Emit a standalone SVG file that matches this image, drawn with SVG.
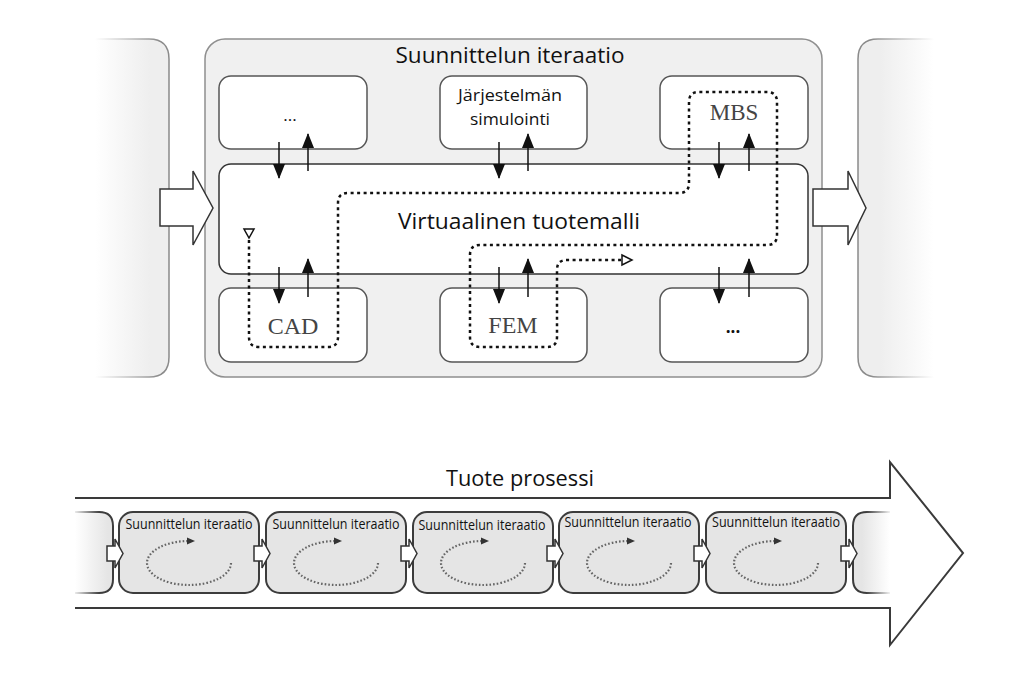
<svg xmlns="http://www.w3.org/2000/svg" width="1024" height="677" viewBox="0 0 1024 677">
<style>
.sans{font-family:"Open Sans","Noto Sans","Liberation Sans",sans-serif;fill:#111}
.serif{font-family:"Liberation Serif","DejaVu Serif",serif;fill:#444}
.inner{fill:#fff;stroke:#555;stroke-width:1.5}
.conn{stroke:#111;stroke-width:1.5;fill:none}
.bigarrow{fill:#fff;stroke:#333;stroke-width:1.5}
.iter{fill:#e5e5e5;stroke:#3c3c3c;stroke-width:2}
.loop{fill:none;stroke:#666;stroke-width:2.2;stroke-dasharray:1.6 2}
.small{font-size:14px}
</style>
<defs>
<linearGradient id="gL" x1="95" y1="0" x2="150" y2="0" gradientUnits="userSpaceOnUse">
<stop offset="0" stop-color="#fff"/><stop offset="1" stop-color="#eeeeee"/></linearGradient>
<linearGradient id="gLs" x1="95" y1="0" x2="160" y2="0" gradientUnits="userSpaceOnUse">
<stop offset="0" stop-color="#fff"/><stop offset="1" stop-color="#8a8a8a"/></linearGradient>
<linearGradient id="gR" x1="880" y1="0" x2="934" y2="0" gradientUnits="userSpaceOnUse">
<stop offset="0" stop-color="#eeeeee"/><stop offset="1" stop-color="#fff"/></linearGradient>
<linearGradient id="gRs" x1="870" y1="0" x2="934" y2="0" gradientUnits="userSpaceOnUse">
<stop offset="0" stop-color="#8a8a8a"/><stop offset="1" stop-color="#fff"/></linearGradient>
<linearGradient id="bL" x1="75" y1="0" x2="108" y2="0" gradientUnits="userSpaceOnUse">
<stop offset="0" stop-color="#fff"/><stop offset="1" stop-color="#e5e5e5"/></linearGradient>
<linearGradient id="bLs" x1="72" y1="0" x2="100" y2="0" gradientUnits="userSpaceOnUse">
<stop offset="0" stop-color="#fff"/><stop offset="1" stop-color="#3c3c3c"/></linearGradient>
<linearGradient id="bR" x1="862" y1="0" x2="890" y2="0" gradientUnits="userSpaceOnUse">
<stop offset="0" stop-color="#e5e5e5"/><stop offset="1" stop-color="#fff"/></linearGradient>
<linearGradient id="bRs" x1="866" y1="0" x2="892" y2="0" gradientUnits="userSpaceOnUse">
<stop offset="0" stop-color="#3c3c3c"/><stop offset="1" stop-color="#fff"/></linearGradient>
<marker id="ah" viewBox="0 0 15 12" refX="14" refY="6" markerWidth="15" markerHeight="12" markerUnits="userSpaceOnUse" orient="auto">
<path d="M0,0 L15,6 L0,12 Z" fill="#111"/></marker>
</defs>

<!-- Top section -->
<g id="prev-stage">
<path d="M95,39 H149 Q169,39 169,59 V357 Q169,377 149,377 H95 Z" fill="url(#gL)" stroke="none"/>
<path d="M95,39 H149 Q169,39 169,59 V357 Q169,377 149,377 H95" fill="none" stroke="url(#gLs)" stroke-width="1.5"/>
</g>
<g id="next-stage">
<path d="M934,39 H878 Q858,39 858,59 V357 Q858,377 878,377 H934 Z" fill="url(#gR)" stroke="none"/>
<path d="M934,39 H878 Q858,39 858,59 V357 Q858,377 878,377 H934" fill="none" stroke="url(#gRs)" stroke-width="1.5"/>
</g>
<g id="design-iteration">
<rect x="205" y="39" width="617" height="338" rx="20" fill="#f0f0f0" stroke="#8f8f8f" stroke-width="1.5"/>
<text class="sans" x="510" y="63" font-size="22" text-anchor="middle" textLength="229" lengthAdjust="spacingAndGlyphs">Suunnittelun iteraatio</text>
</g>
<g id="virtual-model">
<rect x="219" y="164" width="589" height="110" rx="12" fill="#fff" stroke="#333" stroke-width="1.5"/>
<text class="sans" x="519" y="229" font-size="22" text-anchor="middle" textLength="242" lengthAdjust="spacingAndGlyphs">Virtuaalinen tuotemalli</text>
</g>
<g id="node-dots-top">
<rect class="inner" x="219" y="76" width="148" height="73" rx="12"/>
<text class="sans" x="290" y="121" font-size="17" text-anchor="middle">...</text>
</g>
<g id="node-system-sim">
<rect class="inner" x="440" y="76" width="147" height="73" rx="12"/>
<text class="sans" x="510" y="101" font-size="16" text-anchor="middle" textLength="104" lengthAdjust="spacingAndGlyphs">Järjestelmän</text>
<text class="sans" x="510" y="125" font-size="16" text-anchor="middle" textLength="80" lengthAdjust="spacingAndGlyphs">simulointi</text>
</g>
<g id="node-mbs">
<rect class="inner" x="660" y="76" width="148" height="73" rx="12"/>
<text class="serif" x="734" y="120" font-size="23" text-anchor="middle">MBS</text>
</g>
<g id="node-cad">
<rect class="inner" x="219" y="288" width="148" height="74" rx="12"/>
<text class="serif" x="293" y="334" font-size="24" text-anchor="middle">CAD</text>
</g>
<g id="node-fem">
<rect class="inner" x="440" y="288" width="147" height="74" rx="12"/>
<text class="serif" x="513" y="333" font-size="24" text-anchor="middle">FEM</text>
</g>
<g id="node-dots-bottom">
<rect class="inner" x="660" y="288" width="148" height="74" rx="12"/>
<text class="sans" x="733" y="333" font-size="17" font-weight="bold" text-anchor="middle">...</text>
</g>

<g id="connectors">
<!-- top pairs -->
<line class="conn" x1="279" y1="142" x2="279" y2="178" marker-end="url(#ah)"/>
<line class="conn" x1="308" y1="171" x2="308" y2="134" marker-end="url(#ah)"/>
<line class="conn" x1="499" y1="142" x2="499" y2="178" marker-end="url(#ah)"/>
<line class="conn" x1="528" y1="171" x2="528" y2="134" marker-end="url(#ah)"/>
<line class="conn" x1="719" y1="142" x2="719" y2="178" marker-end="url(#ah)"/>
<line class="conn" x1="749" y1="171" x2="749" y2="134" marker-end="url(#ah)"/>
<!-- bottom pairs -->
<line class="conn" x1="279" y1="267" x2="279" y2="303" marker-end="url(#ah)"/>
<line class="conn" x1="308" y1="297" x2="308" y2="259" marker-end="url(#ah)"/>
<line class="conn" x1="499" y1="267" x2="499" y2="303" marker-end="url(#ah)"/>
<line class="conn" x1="528" y1="297" x2="528" y2="259" marker-end="url(#ah)"/>
<line class="conn" x1="719" y1="267" x2="719" y2="303" marker-end="url(#ah)"/>
<line class="conn" x1="749" y1="297" x2="749" y2="259" marker-end="url(#ah)"/>
<!-- dotted workflow path -->
<path d="M249,240 V337 Q249,347 259,347 H328 Q338,347 338,337 V203 Q338,193 348,193 H679 Q689,193 689,183 V102 Q689,92 699,92 H767 Q777,92 777,102 V235 Q777,245 767,245 H480 Q470,245 470,255 V337 Q470,347 480,347 H547 Q557,347 557,337 V270 Q557,260 567,260 H621" fill="none" stroke="#111" stroke-width="2.5" stroke-dasharray="3 3.5"/>
<polygon points="244,229 254,229 249,238" fill="#fff" stroke="#111" stroke-width="1.5"/>
<polygon points="622,255 632,260 622,265" fill="#fff" stroke="#111" stroke-width="1.5"/>
<!-- stage arrows -->
<polygon class="bigarrow" points="160,189 193,189 193,171 213,208 193,245 193,226 160,226"/>
<polygon class="bigarrow" points="813,189 848,189 848,171 866,208 848,245 848,226 813,226"/>
</g>

<!-- Bottom section -->
<g id="product-process">
<path d="M75,498 H890 V462 L963,553 L890,645 V608 H75" fill="#fff" stroke="#3a3a3a" stroke-width="2"/>
<text class="sans" x="520" y="486" font-size="22" text-anchor="middle" textLength="148" lengthAdjust="spacingAndGlyphs">Tuote prosessi</text>
</g>
<g id="iter-prev">
<path d="M75,512 H99 Q113,512 113,526 V579 Q113,593 99,593 H75 Z" fill="url(#bL)" stroke="none"/>
<path d="M75,512 H99 Q113,512 113,526 V579 Q113,593 99,593 H75" fill="none" stroke="url(#bLs)" stroke-width="2"/>
</g>
<g id="iter-next">
<path d="M890,512 H867 Q853,512 853,526 V579 Q853,593 867,593 H890 Z" fill="url(#bR)" stroke="none"/>
<path d="M890,512 H867 Q853,512 853,526 V579 Q853,593 867,593 H890" fill="none" stroke="url(#bRs)" stroke-width="2"/>
</g>
<g id="iter-1">
<rect class="iter" x="119" y="512" width="140" height="81" rx="14"/>
<text class="sans small" x="189" y="529" text-anchor="middle" textLength="127" lengthAdjust="spacingAndGlyphs">Suunnittelun iteraatio</text>
<path class="loop" d="M231,563 A42,22 0 1 1 189,541"/>
<polygon points="187,537.5 195,541 187,544.5" fill="#333"/>
</g>
<g id="iter-2">
<rect class="iter" x="266" y="512" width="140" height="81" rx="14"/>
<text class="sans small" x="336" y="529" text-anchor="middle" textLength="127" lengthAdjust="spacingAndGlyphs">Suunnittelun iteraatio</text>
<path class="loop" d="M378,563 A42,22 0 1 1 336,541"/>
<polygon points="334,537.5 342,541 334,544.5" fill="#333"/>
</g>
<g id="iter-3">
<rect class="iter" x="413" y="512" width="140" height="81" rx="14"/>
<text class="sans small" x="482" y="530" text-anchor="middle" textLength="127" lengthAdjust="spacingAndGlyphs">Suunnittelun iteraatio</text>
<path class="loop" d="M525,563 A42,22 0 1 1 483,541"/>
<polygon points="481,537.5 489,541 481,544.5" fill="#333"/>
</g>
<g id="iter-4">
<rect class="iter" x="559" y="512" width="140" height="81" rx="14"/>
<text class="sans small" x="628" y="527" text-anchor="middle" textLength="127" lengthAdjust="spacingAndGlyphs">Suunnittelun iteraatio</text>
<path class="loop" d="M671,563 A42,22 0 1 1 629,541"/>
<polygon points="627,537.5 635,541 627,544.5" fill="#333"/>
</g>
<g id="iter-5">
<rect class="iter" x="706" y="512" width="140" height="81" rx="14"/>
<text class="sans small" x="776" y="527" text-anchor="middle" textLength="128" lengthAdjust="spacingAndGlyphs">Suunnittelun iteraatio</text>
<path class="loop" d="M818,563 A42,22 0 1 1 776,541"/>
<polygon points="774,537.5 782,541 774,544.5" fill="#333"/>
</g>
<g id="iter-connectors">
<polygon class="bigarrow" stroke-width="1.2" points="107,546 115,546 115,539 123,553.5 115,568 115,561 107,561"/>
<polygon class="bigarrow" stroke-width="1.2" points="254,546 262,546 262,539 270,553.5 262,568 262,561 254,561"/>
<polygon class="bigarrow" stroke-width="1.2" points="401,546 409,546 409,539 417,553.5 409,568 409,561 401,561"/>
<polygon class="bigarrow" stroke-width="1.2" points="547,546 555,546 555,539 563,553.5 555,568 555,561 547,561"/>
<polygon class="bigarrow" stroke-width="1.2" points="694,546 702,546 702,539 710,553.5 702,568 702,561 694,561"/>
<polygon class="bigarrow" stroke-width="1.2" points="841,546 849,546 849,539 857,553.5 849,568 849,561 841,561"/>
</g>
</svg>
